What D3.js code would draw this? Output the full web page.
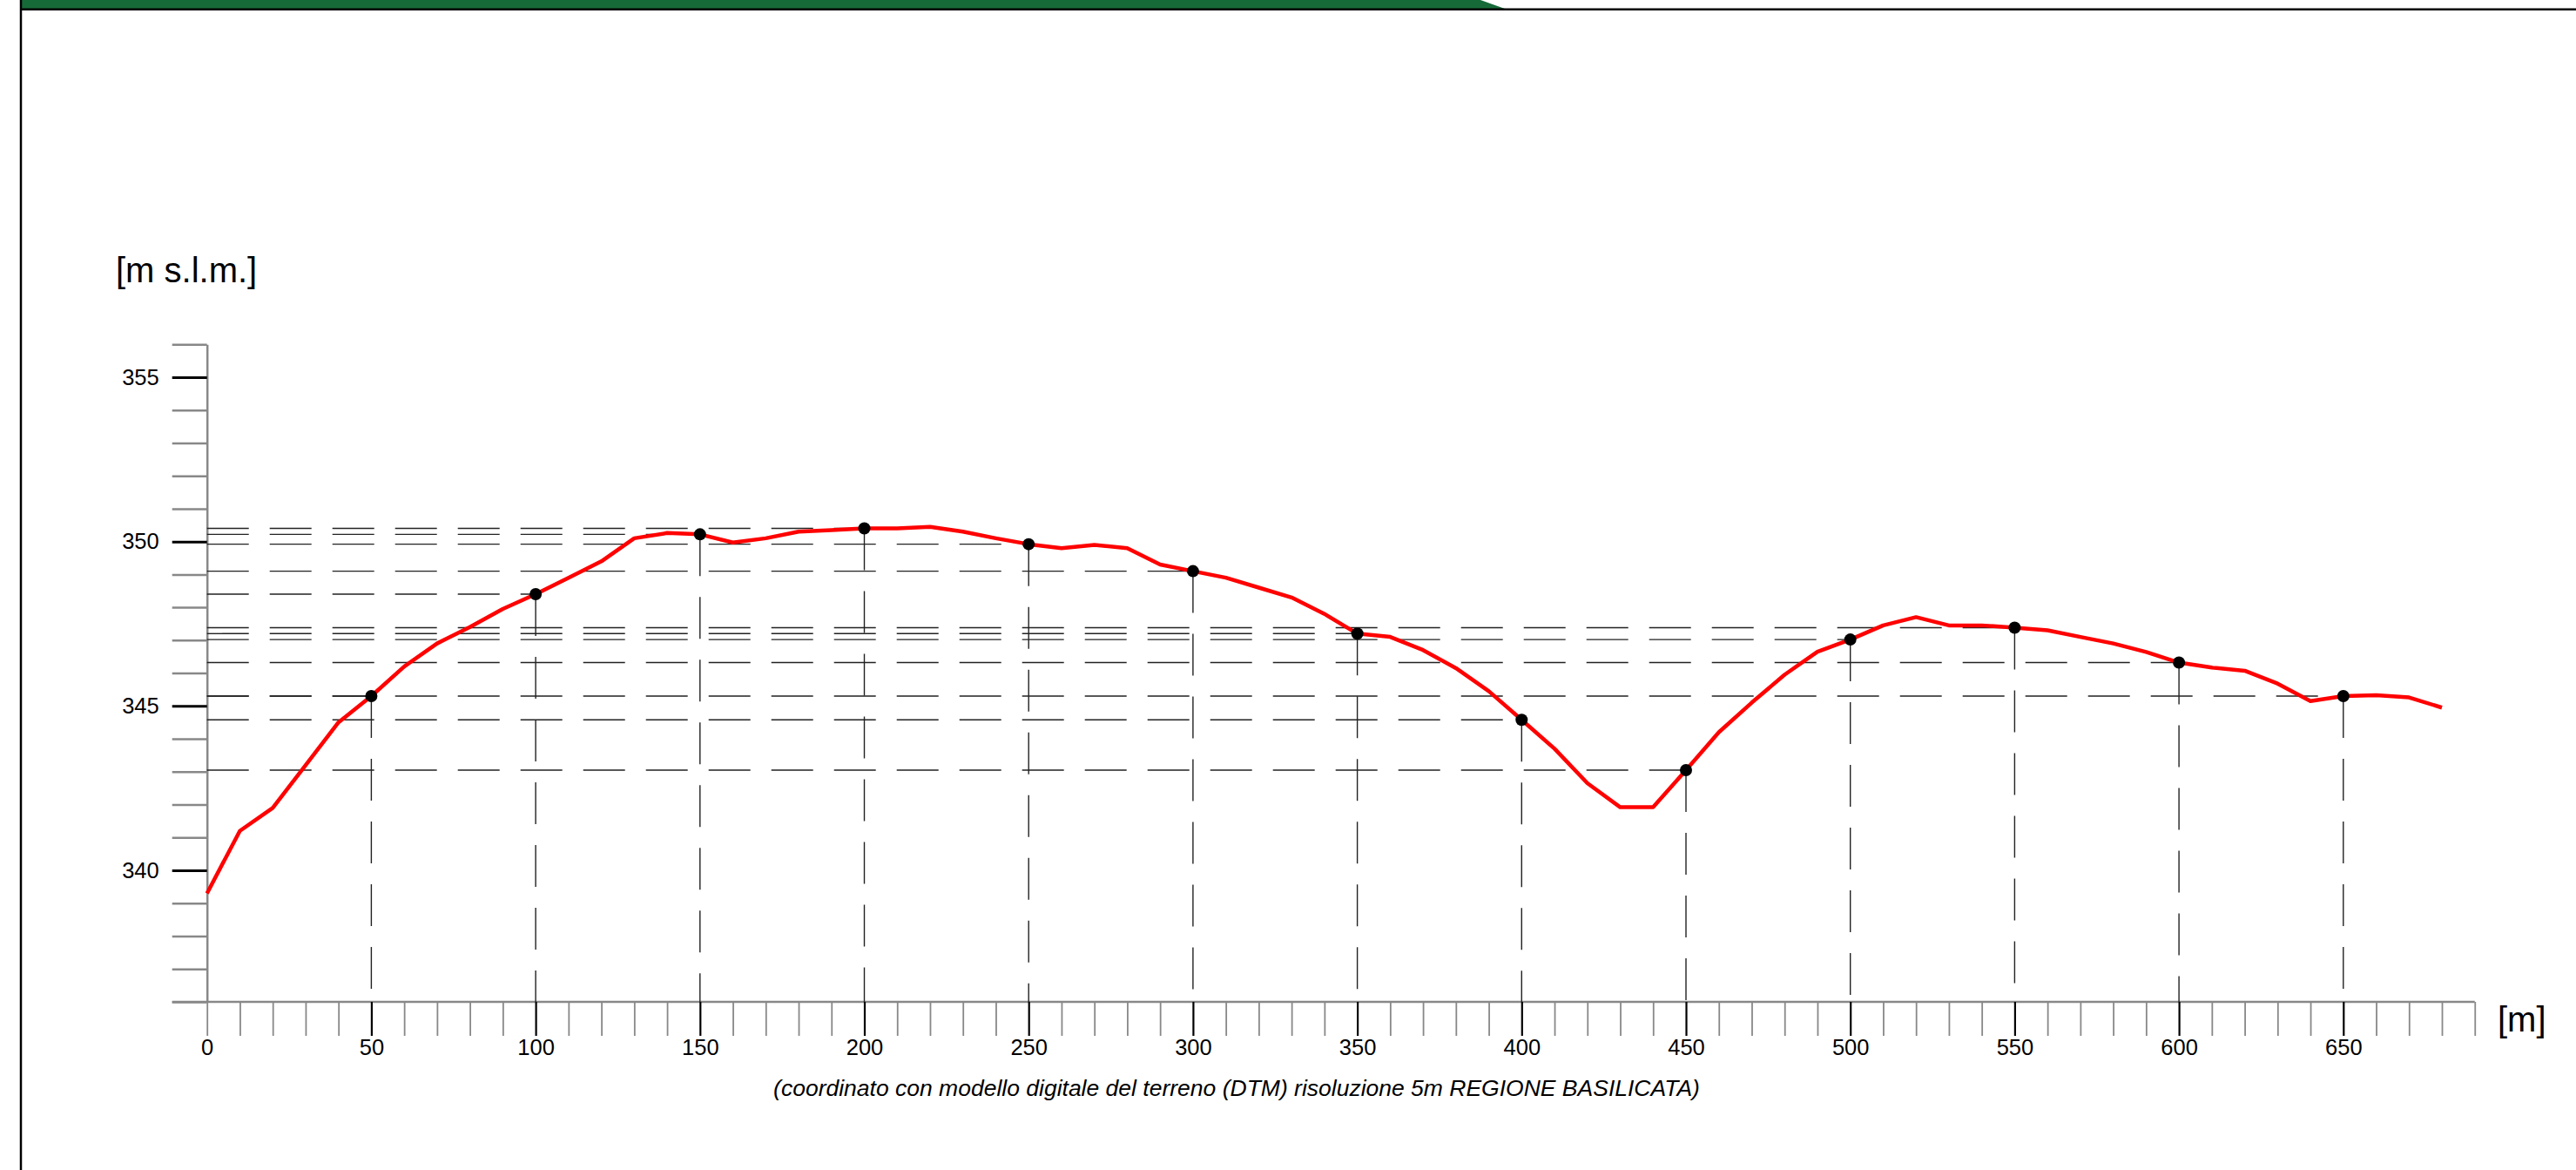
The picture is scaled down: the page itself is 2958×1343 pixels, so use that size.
<!DOCTYPE html>
<html lang="it">
<head>
<meta charset="UTF-8">
<title>Profilo altimetrico</title>
<script src="https://d3js.org/d3.v7.min.js"></script>
<style>
    body { margin: 0; background: #ffffff; font-family: "Liberation Sans", Arial, sans-serif; }
    svg { display: block; }
</style>
</head>
<body>
<div id="chart"></div>
<script>
// progressive distances [m] every 10 m
const distances = [0,10,20,30,40,50,60,70,80,90,100,110,120,130,140,150,160,170,180,190,200,
    210,220,230,240,250,260,270,280,290,300,310,320,330,340,350,360,370,380,390,400,
    410,420,430,440,450,460,470,480,490,500,510,520,530,540,550,560,570,580,590,600,
    610,620,630,640,650,660,670,680];
// ground elevation [m s.l.m.]
const elevations = [339.3,341.2,341.9,343.2,344.5,345.3,346.2,346.9,347.4,347.95,348.4,
    348.9,349.4,350.1,350.26,350.22,349.97,350.1,350.3,350.35,350.4,
    350.4,350.45,350.3,350.1,349.92,349.8,349.9,349.8,349.3,349.1,
    348.9,348.6,348.3,347.8,347.2,347.1,346.7,346.15,345.45,344.58,
    343.7,342.65,341.92,341.92,343.05,344.2,345.1,345.95,346.65,347.02,
    347.45,347.7,347.45,347.45,347.38,347.3,347.1,346.9,346.64,346.32,
    346.17,346.07,345.68,345.15,345.3,345.33,345.26,344.95];
// marked stations (every 50 m)
const stations = [50,100,150,200,250,300,350,400,450,500,550,600,650];
const yLabels = [340, 345, 350, 355];

const W = 2958, H = 1343;
const svg = d3.select('#chart').append('svg')
    .attr('width', W).attr('height', H);

// sheet frame
svg.append('path')
    .attr('d', 'M25,0 L1700,0 L1728,10 L25,10 Z')
    .attr('fill', '#166a38');
svg.append('rect').attr('x', 23).attr('y', 9.5).attr('width', W - 23).attr('height', 2.5).attr('fill', '#000');
svg.append('line').attr('x1', 24).attr('x2', 24).attr('y1', 0).attr('y2', H)
    .attr('stroke', '#000').attr('stroke-width', 2.5);

const x = d3.scaleLinear().domain([0, 690]).range([237.7, 237.7 + 690 * 3.774]);
const y = d3.scaleLinear().domain([336, 356]).range([1150, 395.2]);

const data = distances.map((d, i) => ({d: d, z: elevations[i]}));
const marks = stations.map(s => ({d: s, z: elevations[distances.indexOf(s)]}));

// y axis
const yAxis = svg.append('g')
    .attr('transform', `translate(${x(0)},0)`)
    .call(d3.axisLeft(y)
        .tickValues(d3.range(336, 357, 1))
        .tickSize(40)
        .tickSizeOuter(0)
        .tickPadding(15)
        .tickFormat(d => yLabels.includes(d) ? d : ''));
yAxis.select('.domain').attr('stroke', '#888').attr('stroke-width', 2.5);
yAxis.selectAll('.tick line')
    .attr('stroke', d => yLabels.includes(d) ? '#000' : '#888')
    .attr('stroke-width', d => yLabels.includes(d) ? 3 : 2.5);
yAxis.selectAll('.tick text')
    .attr('fill', '#000')
    .style('font-size', '25.5px')
    .style('font-family', '"Liberation Sans", Arial, sans-serif');

// x axis
const xAxis = svg.append('g')
    .attr('transform', `translate(0,${y(336)})`)
    .call(d3.axisBottom(x)
        .tickValues(d3.range(0, 700, 10))
        .tickSize(39)
        .tickSizeOuter(0)
        .tickPadding(4)
        .tickFormat(d => d % 50 === 0 ? d : ''));
xAxis.select('.domain').attr('stroke', '#888').attr('stroke-width', 2.5)
    .attr('d', `M${x(0) - 40},0H${x(690)}`);
xAxis.selectAll('.tick line')
    .attr('stroke', d => (d % 50 === 0 && d > 0) ? '#000' : '#888')
    .attr('stroke-width', d => (d % 50 === 0 && d > 0) ? 2.2 : 1.8);
xAxis.selectAll('.tick text')
    .attr('fill', '#000')
    .style('font-size', '25.5px')
    .style('font-family', '"Liberation Sans", Arial, sans-serif');

// reference dashed lines
svg.append('g').selectAll('line.h')
    .data(marks).enter().append('line')
    .attr('x1', x(0)).attr('x2', d => x(d.d))
    .attr('y1', d => y(d.z)).attr('y2', d => y(d.z))
    .attr('stroke', '#222').attr('stroke-width', 1.4)
    .attr('stroke-dasharray', '48,24');
svg.append('g').selectAll('line.v')
    .data(marks).enter().append('line')
    .attr('x1', d => x(d.d)).attr('x2', d => x(d.d))
    .attr('y1', d => y(d.z)).attr('y2', y(336))
    .attr('stroke', '#222').attr('stroke-width', 1.4)
    .attr('stroke-dasharray', '48,24');

// ground profile
svg.append('path')
    .datum(data)
    .attr('d', d3.line().x(d => x(d.d)).y(d => y(d.z)))
    .attr('fill', 'none')
    .attr('stroke', '#ff0000')
    .attr('stroke-width', 4.5)
    .attr('stroke-linejoin', 'round');

svg.append('g').selectAll('circle')
    .data(marks).enter().append('circle')
    .attr('cx', d => x(d.d)).attr('cy', d => y(d.z))
    .attr('r', 7).attr('fill', '#000');

// labels
svg.append('text').attr('x', 133).attr('y', 324)
    .style('font-size', '40px').text('[m s.l.m.]');
svg.append('text').attr('x', 2868).attr('y', 1184)
    .style('font-size', '40px').text('[m]');
svg.append('text').attr('x', 1420).attr('y', 1258)
    .attr('text-anchor', 'middle')
    .style('font-size', '26.5px').style('font-style', 'italic')
    .text('(coordinato con modello digitale del terreno (DTM) risoluzione 5m REGIONE BASILICATA)');
</script>
</body>
</html>
